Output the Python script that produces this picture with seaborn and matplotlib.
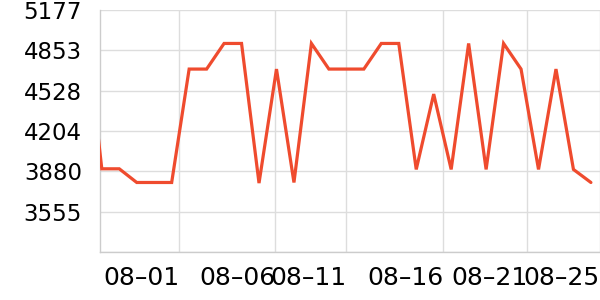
import matplotlib
matplotlib.use("Agg")
import matplotlib.pyplot as plt
import seaborn as sns
import numpy as np
import pandas as pd

# values (one per category step; first one lies just left of the visible range)
values = [5150, 3900, 3900, 3790, 3790, 3790, 4702, 4702, 4908, 4908,
          3785, 4702, 3790, 4908, 4702, 4702, 4702, 4908, 4908, 3895,
          4501, 3895, 4908, 3895, 4908, 4702, 3895, 4702, 3895, 3790]
steps = list(range(-1, len(values) - 1))

tick_labels = ["08–01", "08–06", "08–11", "08–16", "08–21", "08–25"]
tick_pos = [4.44, 9.93, 14.0, 19.55, 24.36, 28.5]
y_ticks = [3231, 3555, 3880, 4204, 4528, 4853, 5177]
y_labels = ["", "3555", "3880", "4204", "4528", "4853", "5177"]

df = pd.DataFrame({"step": steps, "value": values})

sns.set_style("white")
plt.rcParams['font.family'] = ['DejaVu Sans']

fig = plt.figure(figsize=(6, 3), dpi=100)
ax = fig.add_axes([100 / 600, 48 / 300, 500 / 600, 242 / 300])

sns.lineplot(data=df, x="step", y="value", ax=ax, color="#EF4B2E",
             linewidth=2.3, solid_joinstyle="miter", zorder=3)

ax.set_xlim(-0.103, 28.52)
ax.set_ylim(3231, 5177)
ax.set_yticks(y_ticks)
ax.set_yticklabels(y_labels)
ax.set_xticks(tick_pos)
ax.set_xticklabels(tick_labels, ha="right")

ax.grid(True, color="#dddddd", linewidth=1)
ax.set_axisbelow(True)
for s in ["top", "right"]:
    ax.spines[s].set_visible(False)
for s in ["left", "bottom"]:
    ax.spines[s].set_color("#cccccc")
    ax.spines[s].set_linewidth(1)

ax.tick_params(axis="y", length=3, width=1, color="#cccccc", pad=10,
               labelsize=16.5, labelcolor="black")
ax.tick_params(axis="x", length=3, width=1, color="#cccccc", pad=7,
               labelsize=18, labelcolor="black")
ax.set_xlabel("")
ax.set_ylabel("")

fig.savefig("out.png", dpi=100)
